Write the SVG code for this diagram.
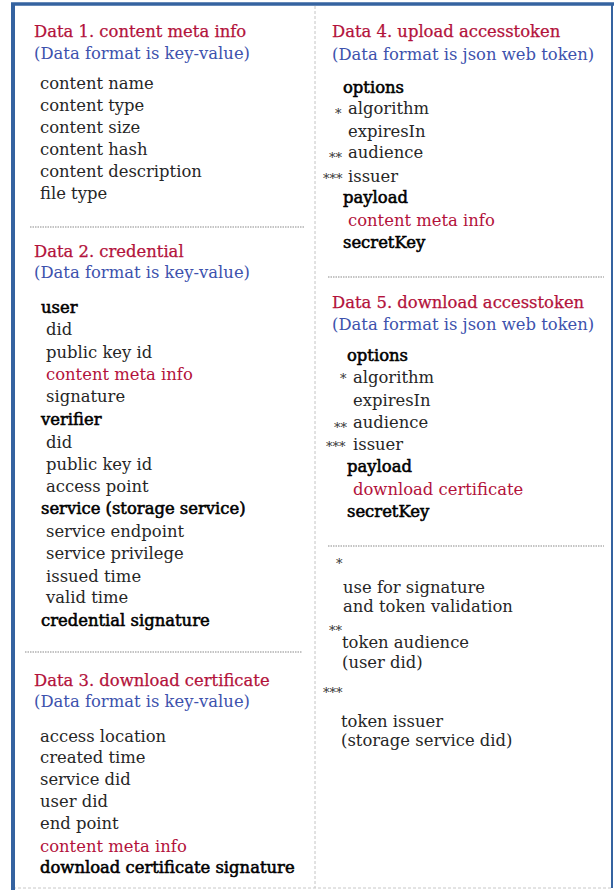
<svg xmlns="http://www.w3.org/2000/svg" width="614" height="890" viewBox="0 0 614 890">
<style>
text{font-family:"DejaVu Serif","Liberation Serif",serif;font-size:16.4px;fill:#262626}
.t{fill:#b3123b;stroke:#b3123b;stroke-width:0.25}
.s{fill:#3d52ad}
.b{fill:#000;stroke:#000;stroke-width:0.55}
.r{fill:#b3123b}
.a{font-size:13px;fill:#333}
.sep{stroke:#8a8a8a;stroke-width:1.2;stroke-dasharray:1.5 1}
</style>
<rect x="0" y="0" width="614" height="890" fill="#fff"/>
<g id="frame">
<line x1="315" y1="6" x2="315" y2="888" stroke="#c4c4c4" stroke-width="1" stroke-dasharray="3 2"/>
<line x1="13" y1="888" x2="612" y2="888" stroke="#c8c8c8" stroke-width="1" stroke-dasharray="3 2"/>
<line x1="612" y1="3" x2="612" y2="888" stroke="#3563a0" stroke-width="2"/>
<line x1="11" y1="4" x2="614" y2="4" stroke="#3563a0" stroke-width="3.5"/>
<line x1="13" y1="3" x2="13" y2="890" stroke="#3563a0" stroke-width="4"/>
</g>
<g id="separators">
<line class="sep" x1="30" y1="227" x2="305" y2="227"/>
<line class="sep" x1="25" y1="652" x2="302" y2="652"/>
<line class="sep" x1="328" y1="277" x2="604" y2="277"/>
<line class="sep" x1="328" y1="546" x2="604" y2="546"/>
</g>
<g id="data1">
<text class="t" x="34" y="37">Data 1. content meta info</text>
<text class="s" x="34" y="59">(Data format is key-value)</text>
<text x="40" y="89">content name</text>
<text x="40" y="111">content type</text>
<text x="40" y="133">content size</text>
<text x="40" y="155">content hash</text>
<text x="40" y="177">content description</text>
<text x="40" y="199">file type</text>
</g>
<g id="data2">
<text class="t" x="34" y="257">Data 2. credential</text>
<text class="s" x="34" y="278">(Data format is key-value)</text>
<text class="b" x="41" y="313">user</text>
<text x="46" y="335">did</text>
<text x="46" y="358">public key id</text>
<text class="r" x="46" y="380">content meta info</text>
<text x="46" y="402">signature</text>
<text class="b" x="41" y="425">verifier</text>
<text x="46" y="448">did</text>
<text x="46" y="470">public key id</text>
<text x="46" y="492">access point</text>
<text class="b" x="41" y="514">service (storage service)</text>
<text x="46" y="537">service endpoint</text>
<text x="46" y="559">service privilege</text>
<text x="46" y="582">issued time</text>
<text x="46" y="603">valid time</text>
<text class="b" x="41" y="626">credential signature</text>
</g>
<g id="data3">
<text class="t" x="34" y="686">Data 3. download certificate</text>
<text class="s" x="34" y="707">(Data format is key-value)</text>
<text x="40" y="742">access location</text>
<text x="40" y="763">created time</text>
<text x="40" y="785">service did</text>
<text x="40" y="807">user did</text>
<text x="40" y="829">end point</text>
<text class="r" x="40" y="852">content meta info</text>
<text class="b" x="40" y="873">download certificate signature</text>
</g>
<g id="data4">
<text class="t" x="332" y="37">Data 4. upload accesstoken</text>
<text class="s" x="332" y="60">(Data format is json web token)</text>
<text class="b" x="343" y="93">options</text>
<text class="a" x="335" y="118">*</text>
<text x="348" y="114">algorithm</text>
<text x="348" y="137">expiresIn</text>
<text class="a" x="329" y="162">**</text>
<text x="348" y="158">audience</text>
<text class="a" x="323" y="183">***</text>
<text x="348" y="182">issuer</text>
<text class="b" x="343" y="203">payload</text>
<text class="r" x="348" y="226">content meta info</text>
<text class="b" x="343" y="248">secretKey</text>
</g>
<g id="data5">
<text class="t" x="332" y="308">Data 5. download accesstoken</text>
<text class="s" x="332" y="330">(Data format is json web token)</text>
<text class="b" x="347" y="361">options</text>
<text class="a" x="340" y="383">*</text>
<text x="353" y="383">algorithm</text>
<text x="353" y="406">expiresIn</text>
<text class="a" x="334" y="432">**</text>
<text x="353" y="428">audience</text>
<text class="a" x="326" y="451">***</text>
<text x="353" y="450">issuer</text>
<text class="b" x="347" y="472">payload</text>
<text class="r" x="353" y="495">download certificate</text>
<text class="b" x="347" y="517">secretKey</text>
</g>
<g id="notes">
<text class="a" x="336" y="568">*</text>
<text x="343" y="593">use for signature</text>
<text x="343" y="612">and token validation</text>
<text class="a" x="329" y="635">**</text>
<text x="342" y="648">token audience</text>
<text x="342" y="668">(user did)</text>
<text class="a" x="323" y="697">***</text>
<text x="341" y="727">token issuer</text>
<text x="341" y="746">(storage service did)</text>
</g>
</svg>
